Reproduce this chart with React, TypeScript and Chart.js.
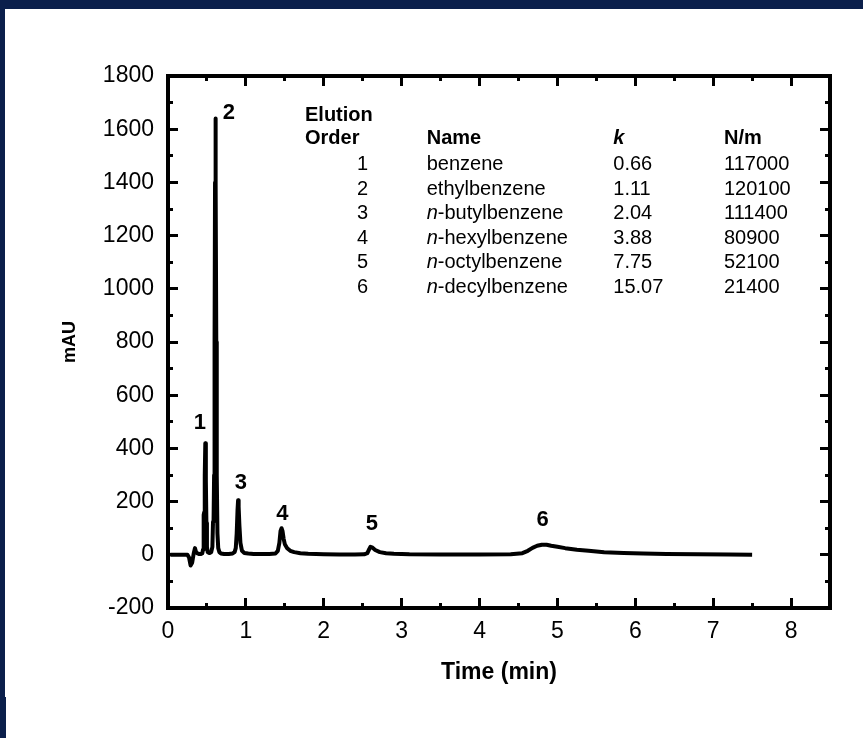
import React, { useEffect, useRef } from 'react';
import { Chart, registerables } from 'chart.js';

Chart.register(...registerables);

const FONT = '"Liberation Sans", Arial, Helvetica, sans-serif';

// Chromatogram trace (time in min, absorbance in mAU)
const timeMin = [
  0.03, 0.15, 0.25, 0.27, 0.29, 0.31, 0.33, 0.346, 0.36, 0.38, 0.40, 0.42, 0.44, 0.45, 0.458, 0.465,
  0.472, 0.479, 0.486, 0.493, 0.50, 0.51, 0.525, 0.54, 0.555, 0.57, 0.578, 0.585, 0.592, 0.598, 0.604,
  0.609, 0.614, 0.62, 0.626, 0.635, 0.645, 0.66, 0.68, 0.72, 0.78, 0.83, 0.855, 0.87, 0.882, 0.893,
  0.90, 0.907, 0.917, 0.93, 0.95, 0.98, 1.03, 1.10, 1.20, 1.30, 1.38, 1.41, 1.43, 1.445, 1.458, 1.47,
  1.485, 1.50, 1.53, 1.57, 1.62, 1.70, 1.80, 2.00, 2.20, 2.40, 2.52, 2.56, 2.585, 2.60, 2.62, 2.66,
  2.72, 2.80, 2.90, 3.10, 3.50, 4.00, 4.40, 4.55, 4.62, 4.68, 4.74, 4.80, 4.86, 4.92, 5.00, 5.10,
  5.25, 5.40, 5.60, 5.85, 6.10, 6.40, 6.80, 7.20, 7.50,
];
const signalMAU = [
  0, 0, 0, -10, -40, -30, 5, 25, 10, 5, 3, 3, 5, 20, 150, 160,
  300, 419, 280, 120, 30, 10, 7, 7, 10, 30, 124, 128, 300, 800, 1400,
  1640, 1400, 800, 300, 80, 25, 10, 5, 3, 3, 5, 10, 25, 80, 170,
  205, 180, 110, 45, 15, 7, 5, 3, 3, 3, 5, 15, 45, 90, 100, 90,
  60, 40, 25, 15, 10, 6, 4, 2, 1, 1, 2, 6, 22, 30, 28, 18,
  10, 6, 4, 2, 1, 1, 2, 6, 15, 26, 34, 38, 38, 34, 30, 25,
  19, 15, 10, 7, 5, 3, 2, 1, 0,
];

// Peak number labels (data coordinates)
const peakLabels = ['1', '2', '3', '4', '5', '6'];
const peakLabelTime = [0.41, 0.782, 0.936, 1.469, 2.617, 4.81];
const peakLabelValue = [495, 1661, 270, 153, 116, 131];

// Inset table
const elutionOrder = ['1', '2', '3', '4', '5', '6'];
const namePrefix = ['', '', 'n', 'n', 'n', 'n'];
const nameRest = ['benzene', 'ethylbenzene', '-butylbenzene', '-hexylbenzene', '-octylbenzene', '-decylbenzene'];
const kValues = ['0.66', '1.11', '2.04', '3.88', '7.75', '15.07'];
const plateNumbers = ['117000', '120100', '111400', '80900', '52100', '21400'];

// Axes
const xMin = 0;
const xMax = 8.5;
const xMajorStep = 1;
const xMinorStep = 0.5;
const yMin = -200;
const yMax = 1800;
const yMajorStep = 200;
const yMinorStep = 100;

const annotationPlugin = {
  id: 'annotations',
  afterDatasetsDraw(chart: any) {
    const { ctx, chartArea, scales } = chart;
    const xs = scales.x;
    const ys = scales.y;
    ctx.save();
    ctx.fillStyle = '#000';
    ctx.font = `bold 22px ${FONT}`;
    ctx.textAlign = 'center';
    ctx.textBaseline = 'middle';
    peakLabels.forEach((lab, i) => {
      ctx.fillText(lab, xs.getPixelForValue(peakLabelTime[i]), ys.getPixelForValue(peakLabelValue[i]));
    });

    const L = chartArea.left;
    const T = chartArea.top;
    const colElution = L + 137;
    const colOrder = L + 194.5;
    const colName = L + 258.7;
    const colK = L + 445.3;
    const colN = L + 556;
    const yElution = T + 45;
    const yHeader = T + 68;
    const yRow0 = T + 94;
    const rowStep = 24.6;

    ctx.textBaseline = 'alphabetic';
    ctx.textAlign = 'left';
    ctx.font = `bold 20px ${FONT}`;
    ctx.fillText('Elution', colElution, yElution);
    ctx.fillText('Order', colElution, yHeader);
    ctx.fillText('Name', colName, yHeader);
    ctx.fillText('N/m', colN, yHeader);
    ctx.font = `italic bold 20px ${FONT}`;
    ctx.fillText('k', colK, yHeader);

    elutionOrder.forEach((ord, i) => {
      const y = yRow0 + rowStep * i;
      ctx.font = `20px ${FONT}`;
      ctx.textAlign = 'center';
      ctx.fillText(ord, colOrder, y);
      ctx.textAlign = 'left';
      let nx = colName;
      if (namePrefix[i]) {
        ctx.font = `italic 20px ${FONT}`;
        ctx.fillText(namePrefix[i], nx, y);
        nx += ctx.measureText(namePrefix[i]).width;
        ctx.font = `20px ${FONT}`;
      }
      ctx.fillText(nameRest[i], nx, y);
      ctx.fillText(kValues[i], colK, y);
      ctx.fillText(plateNumbers[i], colN, y);
    });
    ctx.restore();
  },
};

function App() {
  const canvasRef = useRef<HTMLCanvasElement | null>(null);

  useEffect(() => {
    const canvas = canvasRef.current;
    if (!canvas) return;
    const tickColor = '#000';
    const majorLen = -10;
    const minorLen = -5;
    const border = { display: true, color: '#000', width: 4 };
    const noBorder = { display: false };

    const mkGrid = (len: number) => ({
      drawOnChartArea: false,
      drawTicks: true,
      tickLength: len,
      tickWidth: 3,
      tickColor,
      color: 'rgba(0,0,0,0)',
    });

    const chart = new Chart(canvas, {
      type: 'line',
      data: {
        datasets: [
          {
            data: timeMin.map((t, i) => ({ x: t, y: signalMAU[i] })),
            borderColor: '#000',
            borderWidth: 4,
            pointRadius: 0,
            tension: 0,
            fill: false,
            borderJoinStyle: 'round',
            xAxisID: 'x',
            yAxisID: 'y',
          },
        ],
      },
      options: {
        animation: false,
        responsive: false,
        maintainAspectRatio: false,
        events: [],
        layout: { padding: { top: 76, right: 33, left: 0, bottom: 0 } },
        plugins: {
          legend: { display: false },
          tooltip: { enabled: false },
          title: { display: false },
        },
        scales: {
          xm: {
            type: 'linear', position: 'bottom', min: xMin, max: xMax, weight: 0,
            ticks: { display: false, stepSize: xMinorStep },
            grid: mkGrid(minorLen), border: noBorder,
            afterFit: (s: any) => { s.height = 0; },
          },
          x: {
            type: 'linear', position: 'bottom', min: xMin, max: xMax, weight: 1,
            ticks: {
              stepSize: xMajorStep, includeBounds: false, padding: 20, color: '#000',
              font: { size: 23, family: FONT },
              maxRotation: 0, autoSkip: false,
              callback: (v: any) => String(v),
            },
            grid: mkGrid(majorLen), border,
            title: {
              display: true, text: 'Time (min)', color: '#000',
              font: { size: 23, weight: 'bold', family: FONT },
              padding: { top: 0, bottom: 52 },
            },
            afterFit: (s: any) => { s.height = 130; },
          },
          xtm: {
            type: 'linear', position: 'top', min: xMin, max: xMax, weight: 0,
            ticks: { display: false, stepSize: xMinorStep },
            grid: mkGrid(minorLen), border: noBorder,
            afterFit: (s: any) => { s.height = 0; },
          },
          xt: {
            type: 'linear', position: 'top', min: xMin, max: xMax, weight: 1,
            ticks: { display: false, stepSize: xMajorStep, includeBounds: false },
            grid: mkGrid(majorLen), border,
            afterFit: (s: any) => { s.height = 0; },
          },
          ym: {
            type: 'linear', position: 'left', min: yMin, max: yMax, weight: 0,
            ticks: { display: false, stepSize: yMinorStep },
            grid: mkGrid(minorLen), border: noBorder,
            afterFit: (s: any) => { s.width = 0; },
          },
          y: {
            type: 'linear', position: 'left', min: yMin, max: yMax, weight: 1,
            ticks: {
              stepSize: yMajorStep, padding: 24, color: '#000',
              font: { size: 23, family: FONT },
              callback: (v: any) => String(v),
            },
            grid: mkGrid(majorLen), border,
            title: {
              display: true, text: 'mAU', color: '#000',
              font: { size: 18, weight: 'bold', family: FONT },
              padding: { top: 59, bottom: 0 },
            },
            afterFit: (s: any) => { s.width = 168; },
          },
          yrm: {
            type: 'linear', position: 'right', min: yMin, max: yMax, weight: 0,
            ticks: { display: false, stepSize: yMinorStep },
            grid: mkGrid(minorLen), border: noBorder,
            afterFit: (s: any) => { s.width = 0; },
          },
          yr: {
            type: 'linear', position: 'right', min: yMin, max: yMax, weight: 1,
            ticks: { display: false, stepSize: yMajorStep },
            grid: mkGrid(majorLen), border,
            afterFit: (s: any) => { s.width = 0; },
          },
        },
      } as any,
      plugins: [annotationPlugin],
    });
    return () => chart.destroy();
  }, []);

  const navy = '#0b1f4b';
  return (
    <div style={{ position: 'fixed', left: 0, top: 0, width: 863, height: 738, background: '#fff', overflow: 'hidden' }}>
      <canvas ref={canvasRef} width={863} height={738} style={{ position: 'absolute', left: 0, top: 0, width: 863, height: 738 }} />
      <div style={{ position: 'absolute', left: 0, top: 0, width: 863, height: 9, background: navy }} />
      <div style={{ position: 'absolute', left: 0, top: 0, width: 5, height: 697, background: navy }} />
      <div style={{ position: 'absolute', left: 0, top: 697, width: 6, height: 41, background: navy }} />
    </div>
  );
}

export default App;
